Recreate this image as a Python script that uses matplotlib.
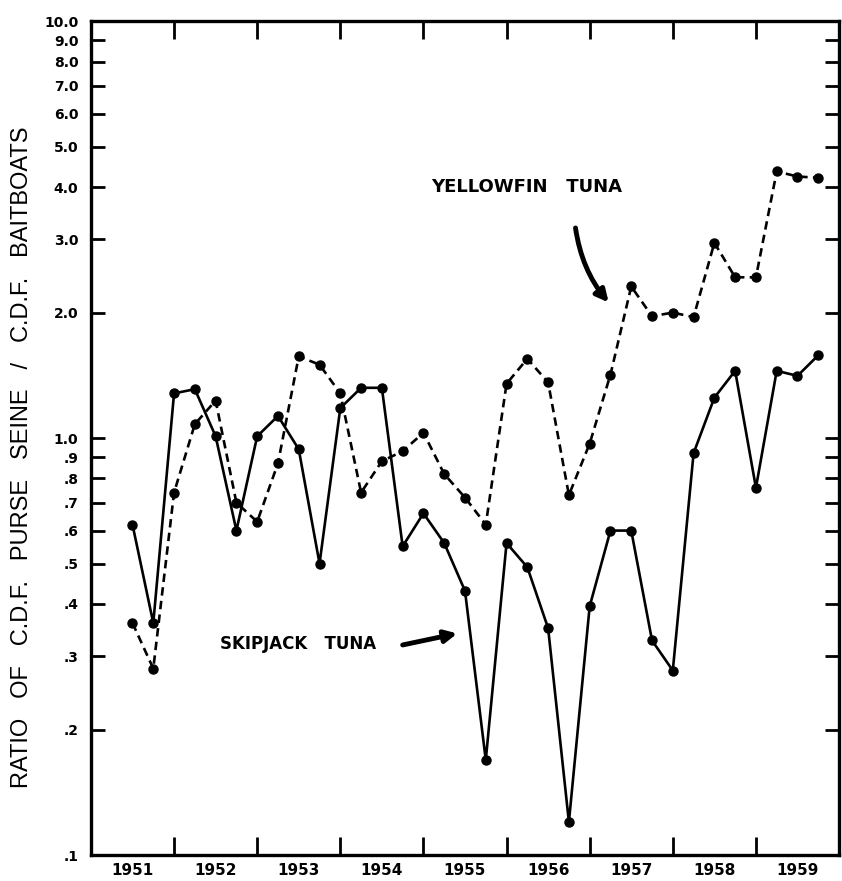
import matplotlib
matplotlib.use("Agg")
import matplotlib.pyplot as plt
import numpy as np

# quarterly ratios, 2nd half 1951 .. 1959
years = [1951, 1952, 1953, 1954, 1955, 1956, 1957, 1958, 1959]
skipjack = [0.62, 0.36, 1.28, 1.31, 1.01, 0.60, 1.01, 1.13, 0.94, 0.50,
            1.18, 1.32, 1.32, 0.55, 0.66, 0.56, 0.43, 0.169, 0.56, 0.49,
            0.35, 0.12, 0.395, 0.60, 0.60, 0.327, 0.277, 0.92, 1.25, 1.45,
            0.76, 1.45, 1.41, 1.58]
yellowfin = [0.36, 0.28, 0.74, 1.08, 1.23, 0.70, 0.63, 0.87, 1.57, 1.50,
             1.28, 0.74, 0.88, 0.93, 1.03, 0.82, 0.72, 0.62, 1.35, 1.55,
             1.36, 0.73, 0.97, 1.42, 2.31, 1.96, 2.00, 1.95, 2.94, 2.43,
             2.43, 4.36, 4.24, 4.21]
ytick_vals = [0.1, 0.2, 0.3, 0.4, 0.5, 0.6, 0.7, 0.8, 0.9, 1.0,
              2.0, 3.0, 4.0, 5.0, 6.0, 7.0, 8.0, 9.0, 10.0]
ytick_labels = ['.1', '.2', '.3', '.4', '.5', '.6', '.7', '.8', '.9', '1.0',
                '2.0', '3.0', '4.0', '5.0', '6.0', '7.0', '8.0', '9.0', '10.0']

# x in quarters from start of 1951, first value sits mid-1951
q = np.arange(len(skipjack)) + 2

fig = plt.figure(figsize=(8.42, 8.81), dpi=100)
ax = fig.add_axes([0.108, 0.0295, 0.8885, 0.9465])

ax.plot(q, skipjack, color='black', lw=1.9, marker='o', ms=6.5)
ax.plot(q, yellowfin, color='black', lw=1.9, marker='o', ms=6.5,
        dashes=(3.2, 2.0))

ax.set_yscale('log')
ax.set_ylim(0.1, 10)
ax.set_xlim(0, 36)
ax.set_yticks(ytick_vals)
ax.set_yticklabels(ytick_labels)
ax.yaxis.set_minor_locator(matplotlib.ticker.NullLocator())

ax.set_xticks(np.arange(4, 36, 4))
ax.set_xticklabels([])
ax.set_xticks(np.arange(len(years)) * 4 + 2, minor=True)
ax.set_xticklabels([str(y) for y in years], minor=True)

for s in ax.spines.values():
    s.set_linewidth(2.4)

ax.tick_params(axis='x', which='major', direction='in', length=13, width=2,
               top=True, bottom=True)
ax.tick_params(axis='x', which='minor', length=0, pad=6,
               labelsize=11)
ax.tick_params(axis='y', which='major', direction='in', length=10, width=2,
               left=True, right=True, pad=9, labelsize=10)
for lab in ax.get_xticklabels(minor=True) + ax.get_yticklabels():
    lab.set_fontweight('bold')

ax.set_ylabel('RATIO   OF   C.D.F.   PURSE   SEINE   /   C.D.F.   BAITBOATS',
              fontsize=17, family='Liberation Sans')
ax.yaxis.set_label_coords(-0.078, 0.477)

ax.annotate('', xy=(25.0, 2.09), xytext=(23.3, 3.24),
            arrowprops=dict(arrowstyle='-|>', lw=3.5, color='black',
                            mutation_scale=18,
                            connectionstyle='arc3,rad=0.15'))
ax.text(20.98, 4.0, 'YELLOWFIN   TUNA', ha='center', va='center',
        fontsize=13, fontweight='bold')

ax.annotate('', xy=(17.76, 0.341), xytext=(14.87, 0.318),
            arrowprops=dict(arrowstyle='-|>', lw=3.5, color='black',
                            mutation_scale=18))
ax.text(9.96, 0.321, 'SKIPJACK   TUNA', ha='center', va='center',
        fontsize=12, fontweight='bold')

fig.savefig('out.png', dpi=100)
